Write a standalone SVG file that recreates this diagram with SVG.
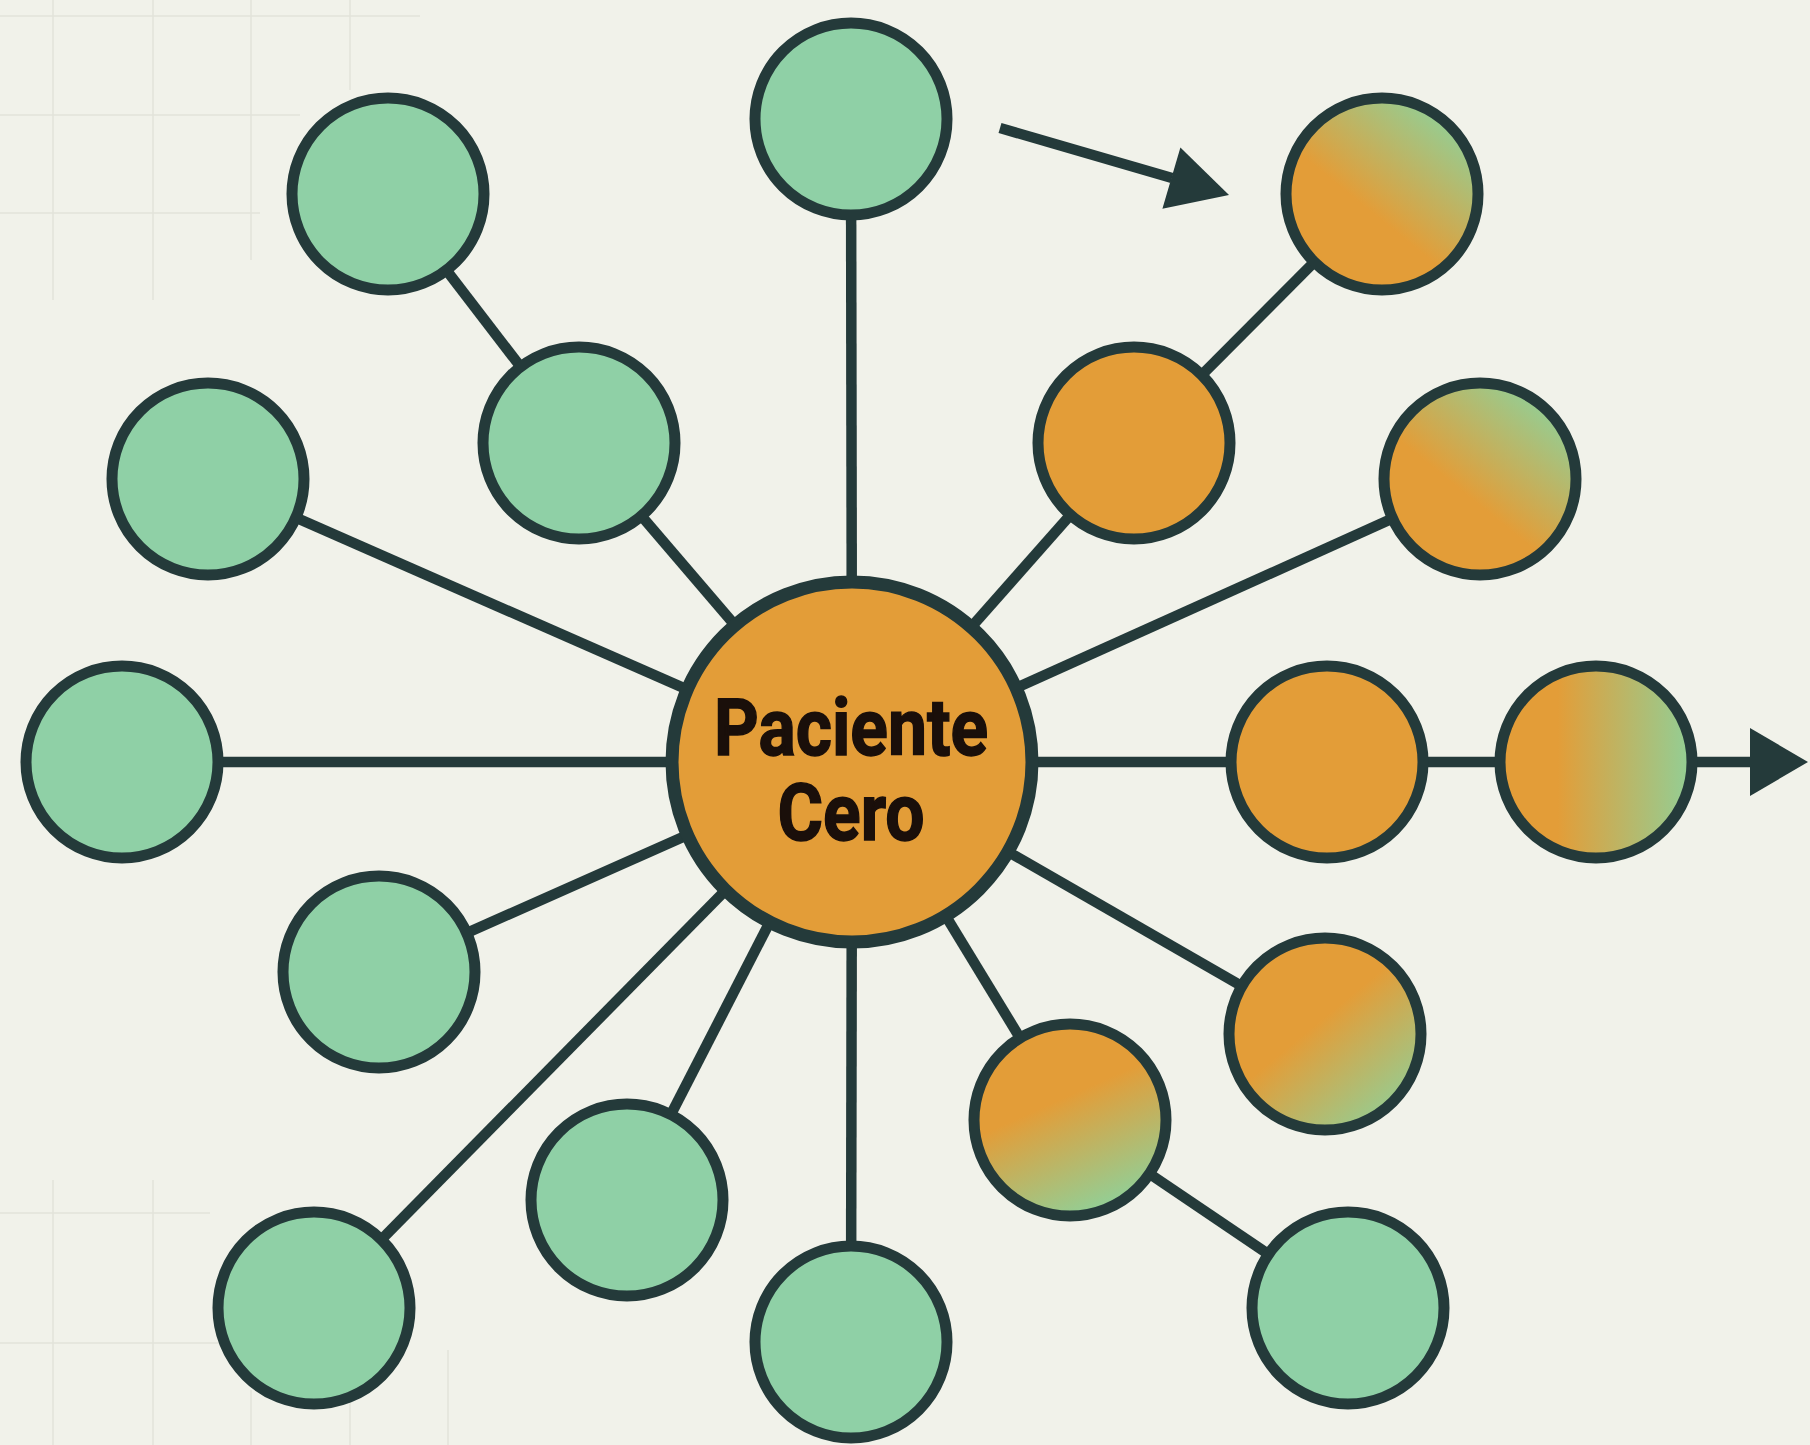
<svg xmlns="http://www.w3.org/2000/svg" width="1810" height="1445" viewBox="0 0 1810 1445">
<style>
.bg{fill:#f1f2ea}
.grid line{stroke:#e2e3da;stroke-width:1.5}
.edge{stroke:#243a3a;stroke-width:10.5;fill:none}
.head{fill:#243a3a}
.n circle{stroke:#243a3a;stroke-width:11}
.g{fill:#8fd0a6}
.o{fill:#e39d38}
.lbl{font-family:Roboto,"Liberation Sans",sans-serif;font-weight:bold;font-size:80px;fill:#1a0f0a;stroke:#1a0f0a;stroke-width:1.5;text-anchor:middle}
</style>
<defs>
<linearGradient id="gUR" x1="0.2" y1="0.9" x2="0.85" y2="0.1"><stop offset="0.38" stop-color="#e39d38"/><stop offset="1" stop-color="#92cf96"/></linearGradient>
<linearGradient id="gR" x1="0" y1="0" x2="1" y2="0"><stop offset="0.3" stop-color="#e39d38"/><stop offset="1" stop-color="#92cf96"/></linearGradient>
<linearGradient id="gDR" x1="0.15" y1="0.1" x2="0.85" y2="0.95"><stop offset="0.42" stop-color="#e39d38"/><stop offset="1" stop-color="#92cf96"/></linearGradient>
<linearGradient id="gD" x1="0.3" y1="0.05" x2="0.7" y2="0.95"><stop offset="0.38" stop-color="#e39d38"/><stop offset="1" stop-color="#92cf96"/></linearGradient>
</defs>
<rect class="bg" x="0" y="0" width="1810" height="1445"/>
<g class="grid">
<line x1="53" y1="0" x2="53" y2="300"/><line x1="153" y1="0" x2="153" y2="300"/><line x1="251" y1="0" x2="251" y2="260"/><line x1="350" y1="0" x2="350" y2="90"/>
<line x1="0" y1="16" x2="420" y2="16"/><line x1="0" y1="115" x2="300" y2="115"/><line x1="0" y1="213" x2="260" y2="213"/>
<line x1="53" y1="1180" x2="53" y2="1445"/><line x1="153" y1="1180" x2="153" y2="1445"/><line x1="251" y1="1390" x2="251" y2="1445"/><line x1="350" y1="1400" x2="350" y2="1445"/><line x1="448" y1="1350" x2="448" y2="1445"/>
<line x1="0" y1="1213" x2="210" y2="1213"/><line x1="0" y1="1343" x2="220" y2="1343"/>
</g>
<g id="connectors">
<line class="edge" x1="852" y1="762" x2="851" y2="119"/>
<line class="edge" x1="852" y1="762" x2="579" y2="443"/>
<line class="edge" x1="579" y1="443" x2="388" y2="194"/>
<line class="edge" x1="852" y1="762" x2="208" y2="479"/>
<line class="edge" x1="852" y1="762" x2="122" y2="762"/>
<line class="edge" x1="852" y1="762" x2="379" y2="972"/>
<line class="edge" x1="852" y1="762" x2="314" y2="1308"/>
<line class="edge" x1="852" y1="762" x2="627" y2="1200"/>
<line class="edge" x1="852" y1="762" x2="851" y2="1342"/>
<line class="edge" x1="852" y1="762" x2="1070" y2="1120"/>
<line class="edge" x1="1070" y1="1120" x2="1348" y2="1308"/>
<line class="edge" x1="852" y1="762" x2="1325" y2="1034"/>
<line class="edge" x1="852" y1="762" x2="1752" y2="762"/>
<line class="edge" x1="852" y1="762" x2="1480" y2="479"/>
<line class="edge" x1="852" y1="762" x2="1134" y2="443"/>
<line class="edge" x1="1134" y1="443" x2="1382" y2="194"/>
<polygon class="head" points="1750,728 1808,762 1750,796"/>
<line class="edge" x1="1000" y1="128" x2="1172" y2="178"/>
<polygon class="head" points="1180.4,147.4 1229,195 1162.4,208.8"/>
</g>
<g id="n1" class="n"><circle class="g" cx="851" cy="119" r="96"/></g>
<g id="n2" class="n"><circle class="g" cx="388" cy="194" r="96"/></g>
<g id="n3" class="n"><circle class="g" cx="579" cy="443" r="96"/></g>
<g id="n4" class="n"><circle class="g" cx="208" cy="479" r="96"/></g>
<g id="n5" class="n"><circle class="g" cx="122" cy="762" r="96"/></g>
<g id="n6" class="n"><circle class="g" cx="379" cy="972" r="96"/></g>
<g id="n7" class="n"><circle class="g" cx="314" cy="1308" r="96"/></g>
<g id="n8" class="n"><circle class="g" cx="627" cy="1200" r="96"/></g>
<g id="n9" class="n"><circle class="g" cx="851" cy="1342" r="96"/></g>
<g id="n10" class="n"><circle class="g" cx="1348" cy="1308" r="96"/></g>
<g id="n11" class="n"><circle fill="url(#gD)" cx="1070" cy="1120" r="96"/></g>
<g id="n12" class="n"><circle fill="url(#gDR)" cx="1325" cy="1034" r="96"/></g>
<g id="n13" class="n"><circle class="o" cx="1327" cy="762" r="96"/></g>
<g id="n14" class="n"><circle fill="url(#gR)" cx="1596" cy="762" r="96"/></g>
<g id="n15" class="n"><circle fill="url(#gUR)" cx="1480" cy="479" r="96"/></g>
<g id="n16" class="n"><circle class="o" cx="1134" cy="443" r="96"/></g>
<g id="n17" class="n"><circle fill="url(#gUR)" cx="1382" cy="194" r="96"/></g>
<g id="center" class="n"><circle class="o" style="stroke-width:13" cx="852" cy="762" r="180"/>
<text class="lbl" transform="translate(851,755) scale(0.87,1)">Paciente</text>
<text class="lbl" transform="translate(851,840) scale(0.87,1)">Cero</text>
</g>
</svg>
